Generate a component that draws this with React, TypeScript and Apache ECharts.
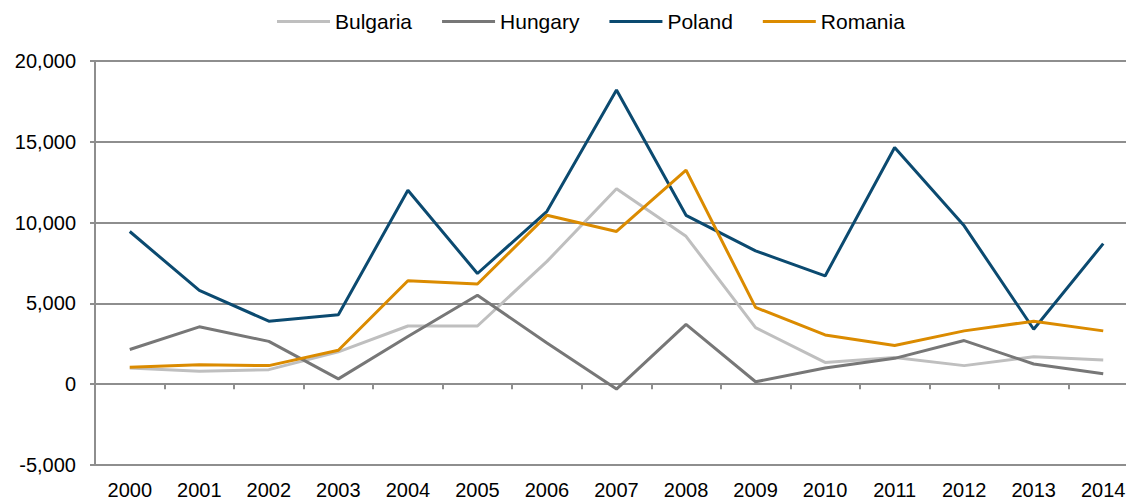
import React, { useEffect, useRef } from "react";
import * as echarts from "echarts";

const years = ["2000","2001","2002","2003","2004","2005","2006","2007","2008","2009","2010","2011","2012","2013","2014"];
const bulgaria = [1000, 800, 900, 2000, 3600, 3600, 7600, 12100, 9150, 3500, 1350, 1650, 1150, 1700, 1500];
const hungary = [2150, 3550, 2650, 330, 2950, 5500, 2550, -300, 3700, 150, 1000, 1600, 2700, 1250, 650];
const poland = [9450, 5800, 3900, 4300, 12000, 6850, 10700, 18200, 10450, 8250, 6700, 14650, 9800, 3400, 8700];
const romania = [1050, 1200, 1150, 2100, 6400, 6200, 10450, 9450, 13250, 4750, 3050, 2400, 3300, 3900, 3300];

const seriesNames = ["Bulgaria", "Hungary", "Poland", "Romania"];
const seriesData = [bulgaria, hungary, poland, romania];
const colors = ["#BFBFBF", "#777777", "#0B4A70", "#DB8B00"];

const FONT = "'Liberation Sans', Arial, sans-serif";
const AXIS_GRAY = "#8E8E8E";

export default function App() {
  const ref = useRef<HTMLDivElement>(null);
  useEffect(() => {
    if (!ref.current) return;
    const chart = echarts.init(ref.current, undefined, { renderer: "svg" });
    chart.setOption({
      animation: false,
      color: colors,
      textStyle: { fontFamily: FONT },
      legend: {
        left: 272,
        top: 6,
        icon: "rect",
        itemWidth: 53,
        itemHeight: 3,
        itemGap: 30,
        textStyle: { fontFamily: FONT, fontSize: 21, color: "#000" },
        data: seriesNames,
      },
      grid: { left: 95, right: 0, top: 61, bottom: 36, containLabel: false },
      xAxis: [
        {
          type: "category",
          data: years,
          position: "bottom",
          boundaryGap: true,
          axisLine: { show: false, onZero: false },
          axisTick: { show: false },
          axisLabel: { fontFamily: FONT, fontSize: 20, color: "#000", margin: 15, interval: 0 },
          splitLine: { show: false },
        },
        {
          type: "category",
          data: years,
          position: "bottom",
          boundaryGap: true,
          axisLine: { show: true, onZero: true, lineStyle: { color: AXIS_GRAY, width: 2 } },
          axisTick: { show: true, length: 5, inside: false, lineStyle: { color: AXIS_GRAY, width: 2 } },
          axisLabel: { show: false },
          splitLine: { show: false },
        },
      ],
      yAxis: {
        type: "value",
        min: -5000,
        max: 20000,
        interval: 5000,
        axisLine: { show: true, onZero: false, lineStyle: { color: AXIS_GRAY, width: 2 } },
        axisTick: { show: true, length: 5, inside: false, lineStyle: { color: AXIS_GRAY, width: 2 } },
        axisLabel: { fontFamily: FONT, fontSize: 20, color: "#000", margin: 19 },
        splitLine: { show: true, lineStyle: { color: AXIS_GRAY, width: 2 } },
      },
      series: seriesNames.map((name, i) => ({
        name,
        type: "line",
        xAxisIndex: 0,
        data: seriesData[i],
        symbol: "none",
        lineStyle: { width: 3, color: colors[i] },
        itemStyle: { color: colors[i] },
      })),
    });
    return () => chart.dispose();
  }, []);
  return (
    <div
      ref={ref}
      style={{ position: "fixed", left: 0, top: 0, width: 1138, height: 501, background: "#fff" }}
    />
  );
}
